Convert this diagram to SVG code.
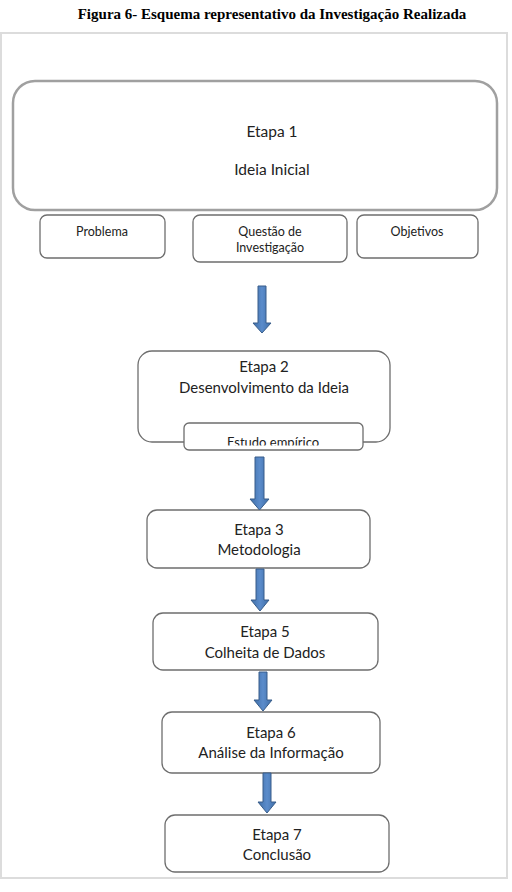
<svg xmlns="http://www.w3.org/2000/svg" width="512" height="892" viewBox="0 0 512 892">
<defs>
<style>
.title{font-family:"Liberation Serif","Times New Roman",serif;font-weight:bold;font-size:15px;fill:#000}
.t{font-family:Lato,"Open Sans",sans-serif;font-size:15px;fill:#222;text-anchor:middle}
.s{font-family:Lato,"Open Sans",sans-serif;font-size:12.5px;fill:#222;text-anchor:middle}
.box{fill:#fff;stroke:#6e6e6e;stroke-width:1.3}
.big{fill:#fff;stroke:#a0a0a0;stroke-width:2.5}
.arrow{fill:url(#ag);stroke:#385d8a;stroke-width:1}
</style>
<linearGradient id="ag" x1="0" y1="0" x2="1" y2="0">
<stop offset="0" stop-color="#3f6ea8"/>
<stop offset="0.5" stop-color="#5b8ccb"/>
<stop offset="1" stop-color="#3f6ea8"/>
</linearGradient>
<clipPath id="clipE"><rect x="184" y="423" width="180" height="22.5"/></clipPath>
</defs>
<rect width="512" height="892" fill="#fff"/>
<text class="title" x="272" y="19" text-anchor="middle">Figura 6- Esquema representativo da Investigação Realizada</text>
<rect x="1" y="33" width="506" height="845" fill="none" stroke="#dcdcdc" stroke-width="2"/>

<g id="etapa1">
<rect class="big" x="13" y="81" width="484" height="129" rx="22"/>
<text class="t" x="272" y="137" style="font-size:15.5px">Etapa 1</text>
<text class="t" x="272" y="175" style="font-size:15.5px">Ideia Inicial</text>
</g>
<g id="problema">
<rect class="box" x="40" y="215" width="125" height="43" rx="7"/>
<text class="s" x="102" y="236">Problema</text>
</g>
<g id="questao">
<rect class="box" x="193" y="215" width="154" height="47" rx="7"/>
<text class="s" x="270" y="236">Questão de</text>
<text class="s" x="270" y="252">Investigação</text>
</g>
<g id="objetivos">
<rect class="box" x="357" y="215" width="121" height="43" rx="7"/>
<text class="s" x="417" y="236">Objetivos</text>
</g>

<g id="etapa2">
<rect class="box" x="138" y="351" width="252" height="91" rx="14"/>
<text class="t" x="264" y="372">Etapa 2</text>
<text class="t" x="264" y="393">Desenvolvimento da Ideia</text>
</g>
<g id="estudo">
<rect class="box" x="184" y="423" width="179" height="27" rx="5"/>
<text class="s" x="273" y="447" clip-path="url(#clipE)" style="font-size:13px">Estudo empírico</text>
</g>

<g id="etapa3">
<rect class="box" x="147" y="510" width="223" height="58" rx="10"/>
<text class="t" x="259" y="535">Etapa 3</text>
<text class="t" x="259" y="555">Metodologia</text>
</g>
<g id="etapa5">
<rect class="box" x="153" y="613" width="225" height="57" rx="10"/>
<text class="t" x="265" y="637">Etapa 5</text>
<text class="t" x="265" y="658">Colheita de Dados</text>
</g>
<g id="etapa6">
<rect class="box" x="162" y="712" width="218" height="61" rx="10"/>
<text class="t" x="271" y="738">Etapa 6</text>
<text class="t" x="271" y="758">Análise da Informação</text>
</g>
<g id="etapa7">
<rect class="box" x="165" y="815" width="224" height="57" rx="10"/>
<text class="t" x="277" y="840">Etapa 7</text>
<text class="t" x="277" y="860">Conclusão</text>
</g>

<g id="connectors">
<path class="arrow" d="M258,286 H266 V323 H271 L262,333 L253,323 H258 Z"/>
<path class="arrow" d="M255,457 H264 V499 H269 L259.5,510 L250,499 H255 Z"/>
<path class="arrow" d="M256,569 H264 V600 H269 L260,611 L251,600 H256 Z"/>
<path class="arrow" d="M259,672 H267 V700 H272 L263,711 L254,700 H259 Z"/>
<path class="arrow" d="M263,773 H271 V802 H276 L267,813 L258,802 H263 Z"/>
</g>
</svg>
